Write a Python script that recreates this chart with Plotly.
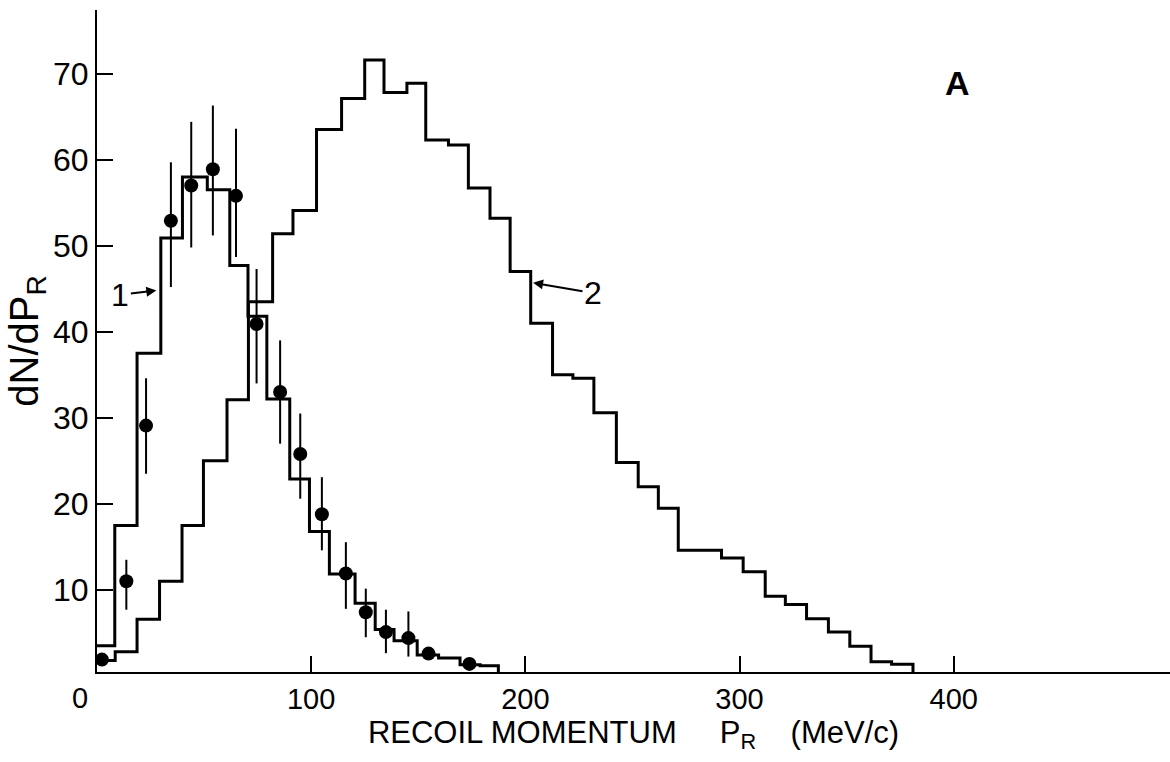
import plotly.graph_objects as go

# ---- Histogram 1 (bin edges in MeV/c, heights dN/dP_R) ----
h1_edges = [0, 8.3, 18.7, 29.8, 39.9, 51.5, 62.0, 70.5, 79.3, 90.0, 99.2, 108.5,
            120.5, 129.9, 138.7, 149.5, 159.5, 169.5, 178.9, 187.4]
h1_values = [3.5, 17.5, 37.5, 50.9, 58.0, 56.5, 47.7, 41.8, 32.2, 22.9, 16.8, 11.85,
             8.45, 5.4, 4.1, 2.45, 2.1, 1.3, 1.2]

# ---- Histogram 2 ----
h2_edges = [0, 8.5, 18.7, 29.2, 39.7, 49.7, 60.7, 70.7, 82.0, 91.5, 102.5, 114.2,
            125.0, 134.0, 144.7, 153.5, 164.1, 173.4, 183.5, 192.9, 202.5, 212.7,
            222.2, 232.0, 242.5, 252.7, 262.1, 271.4, 281.5, 291.6, 301.7, 312.0,
            321.4, 331.3, 341.5, 351.5, 361.4, 371.0, 381.0]
h2_values = [1.8, 2.8, 6.6, 11.0, 17.5, 25.0, 32.1, 43.5, 51.4, 54.1, 63.5, 67.1,
             71.6, 67.8, 68.9, 62.3, 61.7, 56.7, 53.2, 47.0, 41.0, 35.0,
             34.6, 30.6, 24.8, 22.0, 19.5, 14.6, 14.6, 13.7, 12.1, 9.25,
             8.3, 6.65, 5.1, 3.45, 1.65, 1.35]

# ---- Experimental points with error bars ----
pts_x = [2.3, 13.7, 22.9, 34.5, 44.0, 54.1, 64.9, 74.5, 85.5, 94.9, 105.0, 116.2,
         125.5, 134.9, 145.4, 154.8, 173.9]
pts_y = [1.9, 11.0, 29.1, 52.9, 57.0, 58.9, 55.8, 40.9, 33.0, 25.8, 18.8, 11.9,
         7.4, 5.1, 4.4, 2.6, 1.4]
err_up = [0, 2.5, 5.5, 6.8, 7.4, 7.4, 7.8, 6.4, 6.0, 4.7, 4.3, 3.65, 2.75, 2.6, 3.1, 0, 0]
err_dn = [0, 3.3, 5.6, 7.7, 7.2, 7.7, 7.1, 6.9, 6.0, 5.2, 4.2, 4.1, 2.9, 2.45, 2.15, 0, 0]

x_ticks = [100, 200, 300, 400]
y_ticks = [10, 20, 30, 40, 50, 60, 70]

Y0 = 0.46  # baseline (x-axis position)


def step_xy(edges, values):
    xs = list(edges) + [edges[-1]]
    ys = list(values) + [values[-1], Y0]
    return xs, ys


fig = go.Figure()
for edges, values in [(h1_edges, h1_values), (h2_edges, h2_values)]:
    xs, ys = step_xy(edges, values)
    fig.add_trace(go.Scatter(x=xs, y=ys, mode="lines", line=dict(shape="hv", color="black", width=3),
                             showlegend=False, hoverinfo="skip"))

fig.add_trace(go.Scatter(
    x=pts_x, y=pts_y, mode="markers",
    marker=dict(color="black", size=14),
    error_y=dict(type="data", array=err_up, arrayminus=err_dn, symmetric=False,
                 color="black", thickness=2, width=0),
    showlegend=False))

FONT = "Liberation Sans, Arial, sans-serif"
tickfont_x = dict(family=FONT, size=29, color="black")
tickfont_y = dict(family=FONT, size=32, color="black")

fig.update_layout(
    width=1170, height=762,
    margin=dict(l=97, r=0, t=10, b=90),
    paper_bgcolor="white", plot_bgcolor="white",
    showlegend=False,
    xaxis=dict(range=[0, 501], tickvals=x_ticks, ticks="inside", ticklen=16, tickwidth=2,
               tickcolor="black", showline=True, linecolor="black", linewidth=2,
               showgrid=False, zeroline=False, tickfont=tickfont_x,
               title=dict(text="RECOIL MOMENTUM     P<sub>R</sub>    (MeV/c)",
                          font=dict(family=FONT, size=31, color="black"),
                          standoff=6)),
    yaxis=dict(range=[Y0, 77.4], tickvals=y_ticks, ticks="inside", ticklen=16, tickwidth=2,
               tickcolor="black", showline=True, linecolor="black", linewidth=2,
               showgrid=False, zeroline=False, tickfont=tickfont_y,
               title=dict(text="dN/dP<sub>R</sub>",
                          font=dict(family=FONT, size=40, color="black"),
                          standoff=2)),
)

fig.add_annotation(x=0, y=Y0, xref="x", yref="y", text="0", showarrow=False,
                   yanchor="top", yshift=-8, xshift=-17, font=tickfont_x)
fig.add_annotation(x=401.9, y=68.9, xref="x", yref="y", text="<b>A</b>", showarrow=False,
                   font=dict(family=FONT, size=34, color="black"))
fig.add_annotation(x=27.7, y=44.8, ax=10.9, ay=44.3, xref="x", yref="y", axref="x", ayref="y",
                   text="1", showarrow=True, arrowhead=2, arrowsize=1, arrowwidth=2, arrowcolor="black",
                   font=dict(family=FONT, size=32, color="black"))
fig.add_annotation(x=203.6, y=45.7, ax=231.6, ay=44.5, xref="x", yref="y", axref="x", ayref="y",
                   text="2", showarrow=True, arrowhead=2, arrowsize=1, arrowwidth=2, arrowcolor="black",
                   font=dict(family=FONT, size=32, color="black"))

fig.write_html("out.html")
